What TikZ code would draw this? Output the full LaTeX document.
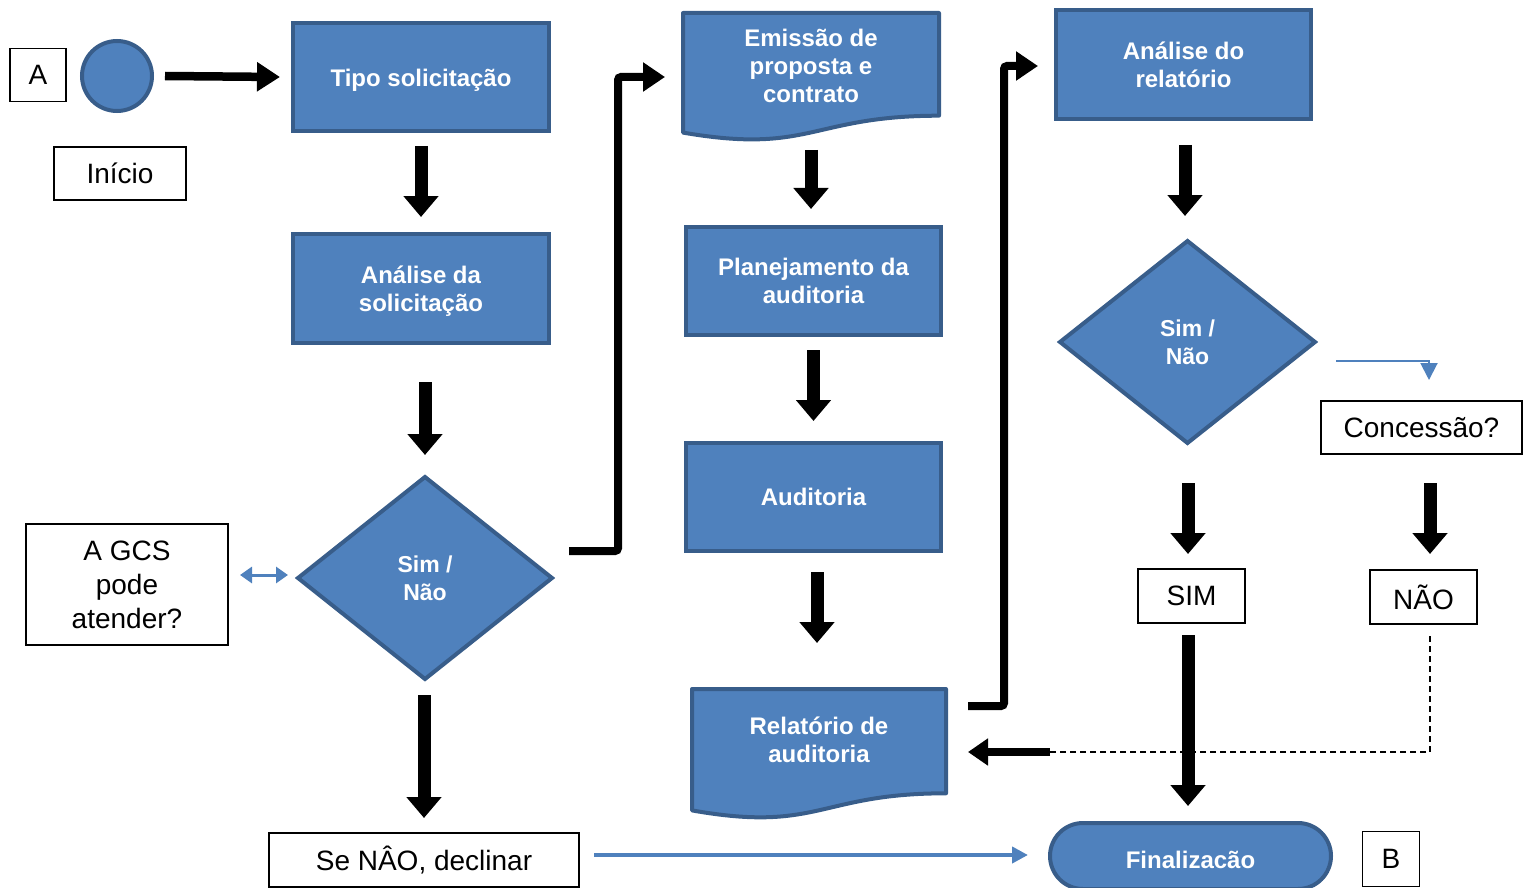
\documentclass[tikz,border=0pt]{standalone}
\usepackage{fontspec}
\setmainfont{Liberation Sans}
\usetikzlibrary{arrows.meta,shapes.geometric}
\definecolor{fillb}{HTML}{4F81BD}
\definecolor{bordb}{HTML}{385D8A}
\newcommand{\lowertext}[2]{\raisebox{-#1}[\height][\depth]{#2}}
\begin{document}
\begin{tikzpicture}[x=1pt,y=-1pt,
  bluebox/.style={rectangle, fill=fillb, draw=bordb, line width=4pt, text=white,
    font=\fontsize{24}{28}\selectfont\bfseries, align=center, outer sep=0pt, inner sep=0pt},
  bluediam/.style={diamond, fill=fillb, draw=bordb, line width=4pt, text=white,
    font=\fontsize{23}{28}\selectfont\bfseries, align=center, outer sep=0pt, inner sep=0pt},
  docshape/.style={fill=fillb, draw=bordb, line width=4pt, line join=round},
  doctext/.style={rectangle, draw=none, text=white,
    font=\fontsize{24}{28}\selectfont\bfseries, align=center, outer sep=0pt, inner sep=0pt},
  wbox/.style={rectangle, draw=black, line width=1.6pt, fill=white,
    font=\fontsize{28}{34}\selectfont, align=center, outer sep=0pt, inner sep=0pt},
  bigarrow/.style={black, line width=13pt, -{Triangle[width=34pt,length=21pt]}},
  midarrow/.style={black, line width=8pt, rounded corners=3pt, -{Triangle[width=28pt,length=22pt]}},
  bluearrow/.style={fillb, line width=4pt, -{Triangle[width=16pt,length=16pt]}},
  thinblue/.style={fillb, line width=2pt, -{Triangle[width=17pt,length=17pt]}},
  dblblue/.style={fillb, line width=3pt, {Triangle[width=16pt,length=12pt]}-{Triangle[width=16pt,length=12pt]}},
  dashline/.style={black, line width=1.6pt, dash pattern=on 6pt off 4pt}
]
\useasboundingbox (0,0) rectangle (1524,888);

% ---- column 1
\node[wbox, minimum width=56pt, minimum height=53pt] (boxA) at (38,75) {A};
\node[circle, fill=fillb, draw=bordb, line width=4pt, minimum size=70pt, outer sep=0pt, inner sep=0pt] (startc) at (117,76) {};
\node[wbox, minimum width=132pt, minimum height=53pt] (inicio) at (120,173.5) {Início};
\node[wbox, minimum width=202pt, minimum height=121pt] (gcs) at (127,584.5) {A GCS\\pode\\atender?};

% ---- column 2
\node[bluebox, minimum width=256pt, minimum height=108pt] (tipo) at (421,77) {\lowertext{3pt}{Tipo solicitação}};
\node[bluebox, minimum width=256pt, minimum height=109pt] (anal) at (421,288.5)
  {\lowertext{3pt}{\begin{tabular}{@{}c@{}}Análise da\\solicitação\end{tabular}}};
\node[bluediam, minimum width=254pt, minimum height=202pt] (d1) at (425,578) {Sim /\\Não};
\node[wbox, minimum width=310pt, minimum height=54pt] (decl) at (424,860) {Se NÂO, declinar};

% ---- column 3
\draw[docshape] (683,13) -- (939,13) -- (939,115.7)
  .. controls (811,115.7) and (811,154.7) .. (683,132.6) -- cycle;
\node[doctext, minimum width=256pt, minimum height=106pt] (emit) at (811,66) {Emissão de\\proposta e\\contrato};
\node[bluebox, minimum width=255pt, minimum height=108pt] (plan) at (813.5,281) {Planejamento da\\auditoria};
\node[bluebox, minimum width=255pt, minimum height=108pt] (audit) at (813.5,497) {Auditoria};
\draw[docshape] (692,689) -- (946,689) -- (946,793.3)
  .. controls (819,793.3) and (819,832.9) .. (692,810.4) -- cycle;
\node[doctext, minimum width=254pt, minimum height=102pt] (rel) at (819,740) {Relatório de\\auditoria};

% ---- column 4
\node[bluebox, minimum width=255pt, minimum height=109pt] (anrel) at (1183.5,64.5) {Análise do\\relatório};
\node[bluediam, minimum width=255pt, minimum height=202pt] (d2) at (1187.5,342) {Sim /\\Não};
\node[wbox, minimum width=201pt, minimum height=53pt] (conc) at (1421.5,427.5) {Concessão?};
\node[wbox, minimum width=107pt, minimum height=54pt] (sim) at (1191.5,596) {SIM};
\node[wbox, minimum width=107pt, minimum height=54pt] (nao) at (1423.5,597) {NÃO};
\node[rectangle, rounded corners=33pt, fill=fillb, draw=bordb, line width=4pt, text=white,
  font=\fontsize{24}{28}\selectfont\bfseries, outer sep=0pt, inner sep=0pt,
  minimum width=281pt, minimum height=66pt] (fin) at (1190.5,856) {\lowertext{4pt}{Finalizacão}};
\node[wbox, minimum width=57pt, minimum height=55pt] (boxB) at (1391,859) {B};

% ---- connectors
\draw[black, line width=8.5pt, -{Triangle[width=28pt,length=23pt]}]
  ([xshift=13pt]startc.east) -- ([xshift=-13pt]tipo.west);
\draw[bigarrow] ([yshift=-15pt]tipo.south) -- ([yshift=17pt]anal.north);
\draw[bigarrow] ([yshift=95pt]d1.north) -- ([yshift=22pt]d1.north);
\draw[bigarrow] ([xshift=-1pt,yshift=-16pt]d1.south) -- ([yshift=15pt]decl.north);
\draw[dblblue] ([xshift=12pt,yshift=9.5pt]gcs.east) -- ([xshift=-10pt,yshift=3pt]d1.west);
\draw[midarrow] ([xshift=17pt,yshift=27pt]d1.east) -| ([xshift=-65pt,yshift=-11pt]emit.west)
  -- ([xshift=-18pt,yshift=-11pt]emit.west);
\draw[bluearrow] ([xshift=15pt,yshift=5pt]decl.east) -- ([xshift=-22pt,yshift=1pt]fin.west);

\draw[bigarrow] ([yshift=-31pt]emit.south) -- ([xshift=-2.5pt,yshift=18pt]plan.north);
\draw[bigarrow] ([yshift=-15pt]plan.south) -- ([yshift=22pt]audit.north);
\draw[bigarrow] ([xshift=3.5pt,yshift=-21pt]audit.south) -- ([xshift=-2pt,yshift=46pt]rel.north);
\draw[midarrow] ([xshift=22pt,yshift=34pt]rel.east) -| ([xshift=-52pt,yshift=-1.5pt]anrel.west)
  -- ([xshift=-18pt,yshift=-1.5pt]anrel.west);

\draw[bigarrow] ([xshift=1.5pt,yshift=-26pt]anrel.south) -- ([xshift=-2.5pt,yshift=25pt]d2.north);
\draw[thinblue] ([xshift=21pt,yshift=-19pt]d2.east) -| ([xshift=7.5pt,yshift=21pt]conc.north);
\draw[bigarrow] ([xshift=0.5pt,yshift=-40pt]d2.south) -- ([xshift=-3.5pt,yshift=15pt]sim.north);
\draw[bigarrow] ([xshift=8.5pt,yshift=-29pt]conc.south) -- ([xshift=6.5pt,yshift=16pt]nao.north);
\draw[bigarrow] ([xshift=-3.5pt,yshift=-12pt]sim.south) -- ([xshift=-2.5pt,yshift=17pt]fin.north);
\coordinate (dj) at (1050,752);
\draw[dashline] ([xshift=6.5pt,yshift=-12pt]nao.south) |- (dj);
\draw[black, line width=8pt, -{Triangle[width=26pt,length=20pt]}] (dj) -- ([xshift=22pt,yshift=-12pt]rel.east);
\end{tikzpicture}
\end{document}
